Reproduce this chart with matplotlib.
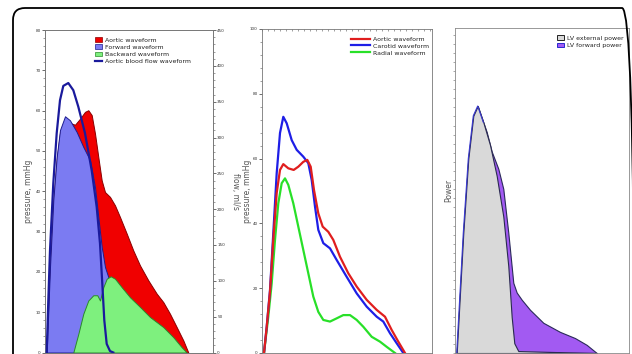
import matplotlib
matplotlib.use("Agg")
import matplotlib.pyplot as plt
from matplotlib.patches import FancyBboxPatch, Patch
from matplotlib.lines import Line2D
from matplotlib.ticker import MultipleLocator, NullFormatter

# ---------------- Panel 1 data ----------------
p1_forward_t = [1.7, 5, 8.3, 11.7, 15, 20, 25, 31.7, 38.3, 45, 50, 53.3, 56.7, 60, 63.3, 75, 88.3, 98.3]
p1_forward = [0, 21.2, 37.8, 48.5, 55.2, 58.6, 57.6, 54.7, 51, 47.7, 41, 33.6, 26.2, 21.2, 18.7, 8.8, 2.2, 0]

p1_aortic_t = [1.7, 5, 8.3, 11.7, 15, 20, 26.7, 30, 35, 40, 43.3, 46.7, 50, 53.3, 56.7, 60, 65, 70, 75,
               81.7, 88.3, 95, 103.3, 111.7, 118.3, 125, 131.7, 138.3, 143.3]
p1_aortic = [0, 21, 37.5, 48, 54.5, 57.5, 56.8, 56.5, 58, 59.7, 60.1, 58.9, 54.3, 48.5, 42.7, 39.8, 38.6, 36.5, 33.6,
             29.5, 25.3, 21.6, 17.9, 14.6, 12.5, 9.6, 6.3, 3, 0]

p1_backward_t = [28.3, 33.3, 38.3, 43.3, 48.3, 52.3, 55, 58.3, 61.7, 65.7, 70, 76.7, 85, 95, 105, 118.3, 128.3, 136.7, 141.7]
p1_backward = [0, 4.6, 9.6, 12.9, 14.2, 14.2, 12.9, 16.2, 18.3, 18.9, 18.3, 16.2, 13.7, 11.3, 8.8, 6.3, 3.8, 1.3, 0]

p1_flow_t = [1.7, 3.3, 5, 8.3, 11.7, 15, 18.3, 23.3, 28.3, 33.3, 40, 46.7, 51.7, 55, 57.3, 59.3, 61.7, 65, 68.3]
p1_flow = [0, 72.7, 142.5, 236, 306, 352, 372, 376, 366, 343, 306, 254, 203, 152, 96, 45, 12, 2, 0]

p1_labels = ["Aortic waveform", "Forward waveform", "Backward waveform", "Aortic blood flow waveform"]

# ---------------- Panel 2 data ----------------
p2_carotid_t = [2, 4.7, 8, 11.3, 14.7, 18, 21.3, 24.7, 29.7, 34.7, 41.3, 46.3, 49.7, 53, 56.3, 61.3, 68, 74.7,
                84.7, 94.7, 104.7, 114.7, 121.3, 128, 134.7, 141.3]
p2_carotid = [0, 8.1, 19.4, 37, 55.5, 67.9, 72.9, 70.9, 65.7, 62.7, 60.6, 58.6, 53.4, 45.2, 38, 33.9, 32.3, 28.7,
              23.5, 18.4, 14.3, 11.2, 9.7, 6.1, 3, 0]

p2_aortic_t = [2, 4.7, 8, 11.3, 14.7, 18, 21.3, 26.3, 31.7, 36.3, 41.3, 45.3, 48.7, 52, 56.3, 60.7, 66.3, 71.3,
               78, 86.3, 94.7, 104.7, 114.7, 123, 129.7, 136.3, 143]
p2_aortic = [0, 8, 19, 35, 49.4, 56.5, 58.3, 57, 56.5, 57.5, 59, 59.6, 57.5, 50.3, 43.1, 39, 37.4, 34.9,
             29.7, 24.6, 20.5, 16.4, 13.3, 11.2, 7.1, 3.5, 0]

p2_radial_t = [2, 6.3, 9.7, 13, 16.3, 19.7, 23, 26.3, 31.3, 36.3, 41.3, 46.3, 51.3, 56.3, 61.3, 68, 74.7, 81.3,
               88, 94.7, 101.3, 109.7, 118, 124.7, 133]
p2_radial = [0, 11.2, 21.5, 34.9, 46.2, 52.4, 53.9, 51.9, 46.2, 39, 31.8, 24.6, 17.4, 12.7, 10.2, 9.7, 10.7, 11.7,
             11.7, 10.2, 8.1, 5, 3.5, 1.9, 0]

p2_labels = ["Aortic waveform", "Carotid waveform", "Radial waveform"]

# ---------------- Panel 3 data ----------------
p3_external_t = [1.7, 8.3, 13.3, 18.3, 22.7, 28.3, 35, 41.7, 48.3, 53.3, 56.7, 59.3, 63.3, 100, 141.7]
p3_external = [0, 37, 59.8, 73, 76, 71, 64, 54.5, 42, 26.7, 11, 3, 0.6, 0.3, 0]

p3_forward_t = [1.7, 8.3, 13.3, 18.3, 22.7, 28.3, 31.7, 36.7, 43.3, 48.3, 53.3, 58.3, 61.7, 66.7, 75, 88.3,
                105, 120, 131.7, 141.7]
p3_forward = [0, 37, 59.8, 73, 76, 71, 68, 62, 56.7, 50.5, 37, 21.6, 18.6, 16.4, 13.3, 9.3,
              6.5, 4.6, 2.5, 0]

p3_labels = ["LV external power", "LV forward power"]

# ---------------- Figure ----------------
W, H = 632, 354
fig = plt.figure(figsize=(W / 100, H / 100), dpi=100)
fig.patch.set_facecolor("white")

def ax_rect(left, right, top, bottom):
    return [left / W, (H - bottom) / H, (right - left) / W, (bottom - top) / H]

tick_kw = dict(labelsize=3, width=0.5, length=2, pad=1, colors="#333333")
minor_kw = dict(width=0.4, length=1.2, colors="#555555")
lab_kw = dict(fontsize=5.5, color="#555555", va="center", ha="center")

# Panel 1
ax1 = fig.add_axes(ax_rect(45, 213, 30, 352.5))
ax1.fill_between(p1_aortic_t, p1_aortic, color="#f00000", edgecolor="#8a0000", linewidth=0.7, zorder=1)
ax1.fill_between(p1_forward_t, p1_forward, color="#7b7bf2", edgecolor="#1c1c90", linewidth=0.7, zorder=2)
ax1.fill_between(p1_backward_t, p1_backward, color="#7ef07e", edgecolor="#2a8a2a", linewidth=0.7, zorder=3)
ax1.set_xlim(0, 168)
ax1.set_ylim(0, 80)
ax1.yaxis.set_major_locator(MultipleLocator(10))
ax1.yaxis.set_minor_locator(MultipleLocator(2))
ax1.set_xticks([])
ax1.tick_params(axis="y", which="major", **tick_kw)
ax1.tick_params(axis="y", which="minor", **minor_kw)
ax1.set_ylabel("pressure, mmHg", rotation=90, **lab_kw)
ax1.yaxis.set_label_coords(-0.101, 0.5)
for s in ax1.spines.values():
    s.set_linewidth(0.6)
    s.set_color("#777777")

ax1b = ax1.twinx()
ax1b.plot(p1_flow_t, p1_flow, color="#1a1a9c", linewidth=1.6, solid_joinstyle="round", zorder=5)
ax1b.set_ylim(0, 450)
ax1b.yaxis.set_major_locator(MultipleLocator(50))
ax1b.yaxis.set_minor_locator(MultipleLocator(10))
ax1b.tick_params(axis="y", which="major", **tick_kw)
ax1b.tick_params(axis="y", which="minor", **minor_kw)
ax1b.set_ylabel("flow, ml/s", rotation=270, **lab_kw)
ax1b.yaxis.set_label_coords(1.131, 0.5)
for s in ax1b.spines.values():
    s.set_linewidth(0.6)
    s.set_color("#777777")

h1 = [Patch(facecolor="#f00000", edgecolor="#8a0000", linewidth=0.5),
      Patch(facecolor="#7b7bf2", edgecolor="#1c1c90", linewidth=0.5),
      Patch(facecolor="#7ef07e", edgecolor="#2a8a2a", linewidth=0.5),
      Line2D([], [], color="#1a1a9c", linewidth=1.6)]
leg1 = ax1b.legend(h1, p1_labels, loc="upper left", bbox_to_anchor=(0.28, 0.985), fontsize=4.5,
                   frameon=False, handlelength=1.2, handleheight=0.8, handletextpad=0.5,
                   labelspacing=0.25, borderaxespad=0)

# Panel 2
ax2 = fig.add_axes(ax_rect(262, 432, 29, 353))
ax2.plot(p2_aortic_t, p2_aortic, color="#e01e1e", linewidth=1.6, solid_joinstyle="round", zorder=3)
ax2.plot(p2_carotid_t, p2_carotid, color="#1e1ee6", linewidth=1.6, solid_joinstyle="round", zorder=2)
ax2.plot(p2_radial_t, p2_radial, color="#28e028", linewidth=1.6, solid_joinstyle="round", zorder=1)
ax2.set_xlim(0, 170)
ax2.set_ylim(0, 100)
ax2.yaxis.set_major_locator(MultipleLocator(20))
ax2.yaxis.set_minor_locator(MultipleLocator(4))
ax2.set_xticks([])
ax2.xaxis.set_minor_locator(MultipleLocator(6))
ax2.xaxis.set_minor_formatter(NullFormatter())
ax2.tick_params(axis="x", which="minor", top=True, bottom=False, direction="in", **minor_kw)
ax2.tick_params(axis="y", which="major", **tick_kw)
ax2.tick_params(axis="y", which="minor", **minor_kw)
ax2.set_ylabel("pressure, mmHg", rotation=90, **lab_kw)
ax2.yaxis.set_label_coords(-0.088, 0.5)
for s in ax2.spines.values():
    s.set_linewidth(0.6)
    s.set_color("#777777")
leg2 = ax2.legend(p2_labels, loc="upper right", bbox_to_anchor=(0.995, 0.985), fontsize=4.5,
                  frameon=False, handlelength=3.0, handletextpad=0.4, labelspacing=0.25, borderaxespad=0)

# Panel 3
ax3 = fig.add_axes(ax_rect(455, 629, 28, 353))
ax3.fill_between(p3_forward_t, p3_forward, color="#a25af2", edgecolor="#2a2a5a", linewidth=0.8, zorder=1)
ax3.fill_between(p3_external_t, p3_external, color="#d9d9d9", edgecolor="#2a2a50", linewidth=0.8, zorder=2)
ax3.plot(p3_forward_t[:6], p3_forward[:6], color="#3a3ad0", linewidth=0.8, zorder=3)
ax3.set_xlim(0, 174)
ax3.set_ylim(0, 100)
ax3.set_xticks([])
ax3.yaxis.set_major_locator(MultipleLocator(2.8))
ax3.yaxis.set_major_formatter(NullFormatter())
ax3.tick_params(axis="y", which="major", width=0.4, length=1.5, colors="#666666")
ax3.set_ylabel("Power", rotation=90, **lab_kw)
ax3.yaxis.set_label_coords(-0.034, 0.5)
for s in ax3.spines.values():
    s.set_linewidth(0.6)
    s.set_color("#888888")
h3 = [Patch(facecolor="#d9d9d9", edgecolor="#222222", linewidth=0.7),
      Patch(facecolor="#a25af2", edgecolor="#2a2ad0", linewidth=0.7)]
leg3 = ax3.legend(h3, p3_labels, loc="upper right", bbox_to_anchor=(0.985, 0.985), fontsize=4.5,
                  frameon=False, handlelength=1.2, handleheight=0.8, handletextpad=0.5,
                  labelspacing=0.25, borderaxespad=0)

for leg in (leg1, leg2, leg3):
    for t in leg.get_texts():
        t.set_color("#222222")

# rounded outer frame (display/pixel coordinates)
frame = FancyBboxPatch((13, -30), 621, 346 + 30, boxstyle="round,pad=0,rounding_size=12",
                       transform=None, facecolor="none", edgecolor="black", linewidth=1.3, zorder=10)
fig.add_artist(frame)

fig.savefig("out.png", dpi=100)
